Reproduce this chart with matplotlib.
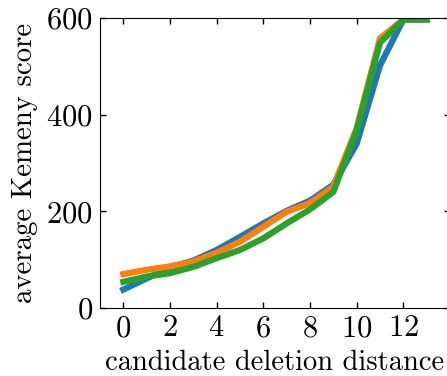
import numpy as np
import matplotlib
matplotlib.use("Agg")
import matplotlib.pyplot as plt

plt.rcParams['font.family'] = 'serif'
plt.rcParams['font.serif'] = ['cmr10']
plt.rcParams['mathtext.fontset'] = 'cm'
plt.rcParams['axes.formatter.use_mathtext'] = True

# distance on x, average score on y
dist = [0, 1, 2, 3, 4, 5, 6, 7, 8, 9, 10, 11, 12, 13]
blue = [38, 61, 84, 98, 120, 147, 175, 201, 222, 255, 340, 502, 597, 597]
orange = [70, 79, 86, 96, 114, 137, 168, 199, 217, 251, 372, 558, 597, 597]
green = [54, 65, 72, 85, 103, 120, 144, 175, 204, 240, 368, 549, 597, 597]
xticks = [0, 2, 4, 6, 8, 10, 12]
yticks = [0, 200, 400, 600]

fig = plt.figure(figsize=(4.47, 3.76), dpi=100)
ax = fig.add_axes([0.2237, 0.181, 0.783, 0.771])

ax.plot(dist, blue, color='#1f77b4', lw=4.5)
ax.plot(dist, orange, color='#ff7f0e', lw=4.5)
ax.plot(dist, green, color='#2ca02c', lw=4.5)

ax.set_xlim(-1, 14)
ax.set_ylim(0, 600)
ax.set_xticks(xticks)
ax.set_yticks(yticks)
ax.tick_params(direction='in', top=True, right=True, length=4.5, width=1,
               labelsize=22, pad=5)
ax.set_xlabel('candidate deletion distance', fontsize=20.5, labelpad=5)
ax.set_ylabel('average Kemeny score', fontsize=20.8, labelpad=6)

fig.savefig('out.png', dpi=100)
